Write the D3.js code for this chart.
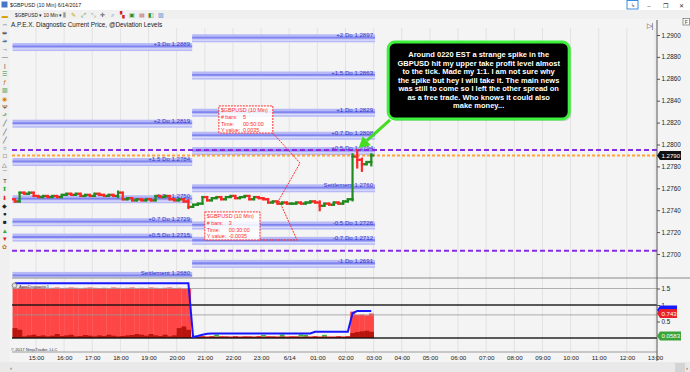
<!DOCTYPE html>
<html><head><meta charset="utf-8">
<script src="https://cdn.jsdelivr.net/npm/d3@7/dist/d3.min.js"></script>
<style>
body{margin:0;background:#f4f4f4}
svg{display:block;font-family:"Liberation Sans",Arial,sans-serif}
</style>
</head><body>
<svg id="c" width="690" height="372"></svg>
<script>
// ---------------- DATA ----------------
// time measured in minutes after 14:00 on 6/13
const barStartMin = 15;
const barStepMin = 10;
const firstOpen = 1.2750;
const closes = [
  1.2748,1.2756,1.2755,1.2756,1.2753,1.2752,1.2753,1.2752,1.2753,1.2752,
  1.2754,1.2755,1.2754,1.2755,1.2753,1.2754,1.2753,1.2755,1.2754,1.2753,
  1.2754,1.2753,1.2756,1.2750,1.2751,1.2749,1.2750,1.2749,1.2750,1.2749,
  1.2753,1.2752,1.2753,1.2750,1.2749,1.2750,1.2748,1.2743,1.2745,1.2746,
  1.2752,1.2749,1.2751,1.2752,1.2750,1.2752,1.2753,1.2751,1.2752,1.2753,
  1.2750,1.2752,1.2751,1.2750,1.2747,1.2748,1.2746,1.2747,1.2746,1.2746,
  1.2747,1.2746,1.2747,1.2748,1.2747,1.2744,1.2746,1.2745,1.2747,1.2746,
  1.2748,1.2750,1.2789,1.2786,1.2782,1.2784,1.2790
];
// [bar index, low, high] where wicks extend beyond open/close
const wicks = [[22,1.2752,1.2757],[37,1.2742,1.2749],[65,1.2740,1.2748],
  [72,1.2749,1.2791],[73,1.2779,1.2795],[74,1.2776,1.2787],[76,1.2781,1.2791]];

const priceTicks = [1.2700,1.2720,1.2740,1.2760,1.2780,1.2800,1.2820,1.2840,1.2860,1.2880,1.2900];
const timeTicks = [60,120,180,240,300,360,420,480,540,600,660,720,780,840,900,960,1020,1080,1140,1200,1260,1320,1380];
const timeTickLabels = ["15:00","16:00","17:00","18:00","19:00","20:00","21:00","22:00","23:00","6/14","01:00","02:00","03:00","04:00","05:00","06:00","07:00","08:00","09:00","10:00","11:00","12:00","13:00"];

const sessionLeft = [10, 393];
const sessionRight = [393, 783];
const leftLevelNames = ["+3 Do","+2 Do","+1.5 Do","+1 Do","+0.7 Do","+0.5 Do","Settlement"];
const leftLevelPrices = [1.2889,1.2819,1.2784,1.2750,1.2729,1.2715,1.2680];
const rightLevelNames = ["+2 Do","+1.5 Do","+1 Do","+0.7 Do","+0.5 Do","Settlement","-0.5 Do","-0.7 Do","-1 Do"];
const rightLevelPrices = [1.2897,1.2863,1.2829,1.2808,1.2794,1.2760,1.2726,1.2712,1.2691];

const targetPrices = [1.2795, 1.2703];
const currentPrice = 1.2790;

// lower indicator panel
const histMain = [
  1.50,1.52,1.53,1.52,1.51,1.53,1.52,1.50,1.52,1.53,1.51,1.52,1.53,1.52,1.50,1.52,1.53,1.52,1.51,1.52,
  1.50,1.53,1.52,1.51,1.52,1.53,1.50,1.52,1.51,1.53,1.52,1.50,1.52,1.53,1.51,1.52,1.50,1.51,
  0.04,0.05,0.06,0.05,0.06,0.05,0.06,0.05,0.05,0.06,0.05,0.06,0.05,0.05,0.06,0.05,0.06,0.05,0.05,0.06,
  0.05,0.06,0.05,0.05,0.06,0.05,0.06,0.05,0.06,0.05,0.05,0.06,0.05,0.06,
  0.80,0.70,0.71,0.69,0.743
];
const histDark = [
  0.30,0.25,0.05,0.08,0.10,0.06,0.08,0.05,0.07,0.12,0.06,0.08,0.10,0.05,0.06,0.09,0.07,0.05,0.08,0.06,
  0.10,0.07,0.05,0.06,0.08,0.09,0.12,0.10,0.07,0.12,0.08,0.06,0.10,0.05,0.08,0.30,0.35,0.25,
  0.03,0.03,0.04,0.03,0.04,0.03,0.03,0.04,0.03,0.04,0.03,0.03,0.04,0.03,0.04,0.03,0.03,0.04,0.03,0.04,
  0.03,0.03,0.04,0.03,0.04,0.03,0.04,0.03,0.04,0.03,0.03,0.04,0.03,0.04,
  0.15,0.18,0.20,0.22,0.19
];
const histGreen = [[43,0.06],[53,0.05],[57,0.06],[61,0.06],[62,0.05],[66,0.05]];
const blueLine = [
  1.66,1.66,1.66,1.66,1.66,1.66,1.66,1.66,1.66,1.66,1.66,1.66,1.66,1.66,1.66,1.66,1.66,1.66,1.66,1.66,
  1.66,1.66,1.66,1.66,1.66,1.66,1.66,1.66,1.66,1.66,1.66,1.66,1.66,1.66,1.66,1.66,1.66,1.66,
  0.03,0.06,0.10,0.13,0.14,0.14,0.14,0.14,0.14,0.14,0.14,0.14,0.14,0.14,0.14,0.14,0.14,0.14,0.14,0.14,
  0.14,0.14,0.14,0.14,0.14,0.14,0.19,0.19,0.19,0.19,0.19,0.19,0.19,0.19,
  0.75,0.82,0.82,0.82,0.82
];
const lowerTicks = [0.5, 1, 1.5];
const lowerLabelBlue = 0.85, lowerLabelRed = 0.743, lowerLabelGreen = 0.0583;

const calloutLines = [
  "Around 0220 EST a strange spike in the",
  "GBPUSD hit my upper take profit level almost",
  "to the tick.  Made my 1:1.  I am not sure why",
  "the spike but hey I will take it.  The main news",
  "was still to come so I left the other spread on",
  "as a free trade.  Who knows it could also",
  "make money..."
];
// annotation anchors in (minutes, price)
const calloutBox = [[811, 1.28936],[1197, 1.28233]];
const arrowFrom = [815, 1.28225], arrowTo = [748, 1.27968];
const ruler1Box = [[450, 1.28352],[565, 1.28105]];
const ruler2Box = [[420, 1.27384],[537.7, 1.27128]];
const ruler1Lines = ["$GBPUSD (10 Min)","# bars:","Time:","Y value:"];
const ruler1Vals = ["","5","00:50:00","0.0035"];
const ruler2Vals = ["","3","00:30:00","-0.0035"];
const rulerPath = [[565,1.28105],[623,1.27830],[578,1.27493],[616.6,1.27128],[537.7,1.27128]];

// ---------------- DRAW ----------------
const svg = d3.select("#c");
const x = d3.scaleLinear().domain([60,1380]).range([36,655]);
const y = d3.scaleLinear().domain([1.27,1.29]).range([254,35]);
const yL = d3.scaleLinear().domain([0,1.5]).range([338,288.5]);
const bx = i => x(barStartMin + barStepMin*i);
const bw = x(barStepMin) - x(0);
const PL = 12, PR = 657, PT = 20, PSEP = 278, PB = 352;

svg.append("rect").attr("width",690).attr("height",372).attr("fill","#f4f4f4");

// vertical grid
svg.append("g").selectAll("line").data(timeTicks).join("line")
  .attr("x1",d=>x(d)).attr("x2",d=>x(d)).attr("y1",PT+8).attr("y2",PB)
  .attr("stroke","#e2e2e2").attr("stroke-width",1);

svg.append("clipPath").attr("id","pc").append("rect")
  .attr("x",PL).attr("y",PT).attr("width",PR-PL).attr("height",PSEP-PT);
const main = svg.append("g").attr("clip-path","url(#pc)");

// deviation level bands
function drawLevels(names, prices, sess){
  const g = main.append("g");
  prices.forEach((p,k)=>{
    g.append("rect").attr("x",x(sess[0])).attr("width",x(sess[1])-x(sess[0]))
      .attr("y",y(p)-4).attr("height",8).attr("fill","#b6b9f6");
    g.append("rect").attr("x",x(sess[0])).attr("width",x(sess[1])-x(sess[0]))
      .attr("y",y(p)+1.2).attr("height",1.3).attr("fill","#e2e3fb").attr("opacity",0.8);
    g.append("line").attr("x1",x(sess[0])).attr("x2",x(sess[1]))
      .attr("y1",y(p)-0.6).attr("y2",y(p)-0.6).attr("stroke","#7f84ef").attr("stroke-width",1.8);
    g.append("text").attr("x",x(sess[1])-2).attr("y",y(p)-1)
      .attr("text-anchor","end").attr("font-size",6.1).attr("fill","#3535c8")
      .text(names[k]+" "+p.toFixed(4));
  });
}
drawLevels(leftLevelNames,leftLevelPrices,sessionLeft);
drawLevels(rightLevelNames,rightLevelPrices,sessionRight);

// target lines
main.selectAll("line.tp").data(targetPrices).join("line").attr("class","tp")
  .attr("x1",PL).attr("x2",PR).attr("y1",d=>y(d)).attr("y2",d=>y(d))
  .attr("stroke","#8a2be2").attr("stroke-width",2).attr("stroke-dasharray","5,3");
main.append("line").attr("x1",PL).attr("x2",PR).attr("y1",y(currentPrice)).attr("y2",y(currentPrice))
  .attr("stroke","#ffa23a").attr("stroke-width",2).attr("stroke-dasharray","3,2");

// ruler annotations
main.append("path").attr("d",d3.line().x(d=>x(d[0])).y(d=>y(d[1]))(rulerPath))
  .attr("fill","none").attr("stroke","#ff3030").attr("stroke-width",1).attr("stroke-dasharray","2,1");
function rulerBox(b, vals){
  const x0=x(b[0][0]), y0=y(b[0][1]), x1=x(b[1][0]), y1=y(b[1][1]);
  main.append("rect").attr("x",x0).attr("y",y0).attr("width",x1-x0).attr("height",y1-y0)
    .attr("fill","#ffffff").attr("fill-opacity",0.85).attr("stroke","#ff3030")
    .attr("stroke-width",1).attr("stroke-dasharray","2,1");
  ruler1Lines.forEach((t,k)=>{
    main.append("text").attr("x",x0+2).attr("y",y0+6+k*6.8).attr("font-size",5.4)
      .attr("fill","#ff2a2a").text(t);
    if(vals[k]) main.append("text").attr("x",x0+24).attr("y",y0+6+k*6.8).attr("font-size",5.4)
      .attr("fill","#ff2a2a").text(vals[k]);
  });
}
rulerBox(ruler1Box, ruler1Vals);
rulerBox(ruler2Box, ruler2Vals);

// price bars
const bars = closes.map((c,i)=>{
  const o = i ? closes[i-1] : firstOpen;
  let lo = Math.min(o,c), hi = Math.max(o,c);
  const w = wicks.find(d=>d[0]===i);
  if (w){ lo = Math.min(lo,w[1]); hi = Math.max(hi,w[2]); }
  return {i,o,c,lo,hi,up:c>=o};
});
const bg = main.append("g").attr("stroke-width",2.2).attr("stroke-linecap","square");
bars.forEach(b=>{
  const col = b.up ? "#1f8a1f" : "#ff2626";
  const cx = bx(b.i);
  bg.append("line").attr("x1",cx).attr("x2",cx).attr("y1",y(b.lo)).attr("y2",y(b.hi)).attr("stroke",col);
  bg.append("line").attr("x1",cx-bw/2+0.5).attr("x2",cx).attr("y1",y(b.o)).attr("y2",y(b.o)).attr("stroke",col);
  bg.append("line").attr("x1",cx).attr("x2",cx+bw/2-0.5).attr("y1",y(b.c)).attr("y2",y(b.c)).attr("stroke",col);
});

// callout
const cx0=x(calloutBox[0][0]), cy0=y(calloutBox[0][1]), cx1=x(calloutBox[1][0]), cy1=y(calloutBox[1][1]);
main.append("rect").attr("x",cx0+2).attr("y",cy0+2).attr("width",cx1-cx0).attr("height",cy1-cy0)
  .attr("rx",7).attr("fill","#888").attr("opacity",0.35);
main.append("rect").attr("x",cx0).attr("y",cy0).attr("width",cx1-cx0).attr("height",cy1-cy0)
  .attr("rx",7).attr("fill","#000").attr("stroke","#3df03d").attr("stroke-width",3);
calloutLines.forEach((t,k)=>{
  main.append("text").attr("x",(cx0+cx1)/2).attr("y",cy0+15.3+k*8.45)
    .attr("text-anchor","middle").attr("font-size",7.5).attr("font-weight","bold")
    .attr("fill","#fff").text(t);
});
// arrow
{
  const ax0=x(arrowFrom[0]), ay0=y(arrowFrom[1]), ax1=x(arrowTo[0]), ay1=y(arrowTo[1]);
  const ang = Math.atan2(ay1-ay0, ax1-ax0), L=11, Wd=6;
  const bxp = ax1 - L*Math.cos(ang), byp = ay1 - L*Math.sin(ang);
  main.append("line").attr("x1",ax0).attr("y1",ay0).attr("x2",bxp).attr("y2",byp)
    .attr("stroke","#44dd22").attr("stroke-width",3);
  const px = -Math.sin(ang)*Wd, py = Math.cos(ang)*Wd;
  main.append("polygon").attr("points",[[ax1,ay1],[bxp+px,byp+py],[bxp-px,byp-py]].map(p=>p.join(",")).join(" "))
    .attr("fill","#44dd22");
}

// lower panel
const lower = svg.append("g");
const hb = bw;
lower.selectAll("rect.m").data(histMain).join("rect").attr("class","m")
  .attr("x",(d,i)=>bx(i)-hb/2).attr("width",hb+0.3).attr("y",d=>yL(d)).attr("height",d=>yL(0)-yL(d))
  .attr("fill","#ff4646");
lower.selectAll("rect.d").data(histDark).join("rect").attr("class","d")
  .attr("x",(d,i)=>bx(i)-hb/2).attr("width",hb+0.3).attr("y",d=>yL(d)).attr("height",d=>yL(0)-yL(d))
  .attr("fill","#b8150f");
lower.selectAll("rect.g").data(histGreen).join("rect").attr("class","g")
  .attr("x",d=>bx(d[0])-hb/2).attr("width",hb).attr("y",d=>yL(d[1])-1.5).attr("height",d=>yL(0)-yL(d[1]))
  .attr("fill","#3cb43c");
// reference lines
[[1.5,"#a0a0a0",1],[0.7,"#9a9a9a",1],[1,"#111",1.6],[0,"#111",1.6]].forEach(r=>{
  lower.append("line").attr("x1",PL).attr("x2",PR).attr("y1",yL(r[0])).attr("y2",yL(r[0]))
    .attr("stroke",r[1]).attr("stroke-width",r[2]).attr("opacity",r[1]==="#111"?0.9:0.8);
});
lower.append("path").attr("d",d3.line().x((d,i)=>bx(i)).y(d=>yL(d))(blueLine))
  .attr("fill","none").attr("stroke","#1717ff").attr("stroke-width",2);
lower.append("circle").attr("cx",14.5).attr("cy",285.5).attr("r",2.5).attr("fill","#ddd").attr("stroke","#666").attr("stroke-width",0.7);
lower.append("text").attr("x",19).attr("y",287.5).attr("font-size",4).attr("fill","#333").text("ApexDiagnostic1");
lower.append("text").attr("x",11).attr("y",350.5).attr("font-size",4.2).attr("fill","#333").text("© 2017 NinjaTrader, LLC");

// separators / axes
svg.append("line").attr("x1",PL).attr("x2",690).attr("y1",PSEP).attr("y2",PSEP).attr("stroke","#8a8a8a");
svg.append("line").attr("x1",PL).attr("x2",PR).attr("y1",PB).attr("y2",PB).attr("stroke","#9a9a9a");
svg.append("line").attr("x1",PR).attr("x2",PR).attr("y1",PT).attr("y2",361).attr("stroke","#555");

const ra = svg.append("g").attr("transform",`translate(${PR},0)`)
  .call(d3.axisRight(y).tickValues(priceTicks).tickSize(3).tickFormat(d3.format(".4f")));
ra.select(".domain").remove();
ra.selectAll("text").attr("font-size",6.3).attr("fill","#222").attr("x",4.5).style("font-family","Liberation Sans, Arial, sans-serif");
ra.selectAll("line").attr("stroke","#555");

const rl = svg.append("g").attr("transform",`translate(${PR},0)`)
  .call(d3.axisRight(yL).tickValues(lowerTicks).tickSize(3).tickFormat(d=>String(d)));
rl.select(".domain").remove();
rl.selectAll("text").attr("font-size",6.3).attr("fill","#222").attr("x",4.5).style("font-family","Liberation Sans, Arial, sans-serif");
rl.selectAll("line").attr("stroke","#555");

const xa = svg.append("g").attr("transform",`translate(0,${PB})`)
  .call(d3.axisBottom(x).tickValues(timeTicks).tickSize(0).tickFormat((d,k)=>timeTickLabels[k]));
xa.select(".domain").remove();
xa.selectAll("text").attr("font-size",6.2).attr("fill","#222").attr("y",4).style("font-family","Liberation Sans, Arial, sans-serif");

// value flags on right axis
function flag(yy, txt, fill, w){
  const g = svg.append("g");
  g.append("path").attr("d",`M${PR},${yy} L${PR+3},${yy-4.5} H${PR+3+w} V${yy+4.5} H${PR+3} Z`).attr("fill",fill);
  if (txt) g.append("text").attr("x",PR+4.5).attr("y",yy+2.2).attr("font-size",6.1).attr("fill","#fff").text(txt);
}
flag(y(currentPrice), currentPrice.toFixed(4), "#111", 21);
flag(yL(lowerLabelBlue), "", "#1a1aff", 17);
flag(yL(lowerLabelRed), String(lowerLabelRed), "#e8202a", 17);
flag(yL(lowerLabelGreen), String(lowerLabelGreen), "#3aa33a", 21);

// window chrome: title bar
svg.append("rect").attr("width",690).attr("height",10).attr("fill","#ffffff");
svg.append("rect").attr("x",1.5).attr("y",1.5).attr("width",6).attr("height",6).attr("fill","#4a78c8");
svg.append("text").attr("x",10).attr("y",7).attr("font-size",5.3).attr("fill","#222").text("$GBPUSD (10 Min)  6/14/2017");
svg.append("rect").attr("x",627).attr("y",0.5).attr("width",11).attr("height",8.5).attr("fill","#fff").attr("stroke","#3a8de0");
svg.append("text").attr("x",632.5).attr("y",7).attr("font-size",5).attr("text-anchor","middle").attr("fill","#444").text("↳");
[["–",649],["❐",665],["✕",681]].forEach(b=>svg.append("text").attr("x",b[1]).attr("y",7.5).attr("font-size",6)
  .attr("text-anchor","middle").attr("fill","#333").text(b[0]));
// toolbar
svg.append("rect").attr("y",10).attr("width",690).attr("height",9).attr("fill","#f0f0f0");
svg.append("text").attr("x",15).attr("y",16.5).attr("font-size",4.8).attr("fill","#222").text("$GBPUSD ▾   10 Min ▾");
const tbIcons = [["⫼","#333"],["✎","#c9a400"],["⤢","#2c8f2c"],["⤡","#999"],["✛","#333"],["⌕","#4a78c8"],["▚","#d02020"],["▣","#2c8f2c"],["▤","#c06060"],["◧","#2c8f2c"],["▥","#4a78c8"]];
tbIcons.forEach((t,k)=>svg.append("text").attr("x",64+k*9.7).attr("y",17).attr("font-size",6)
  .attr("text-anchor","middle").attr("fill",t[1]).text(t[0]));
// left drawing toolbar
svg.append("rect").attr("y",19).attr("width",9.5).attr("height",343).attr("fill","#f0f0f0");
const lbIcons = [["▬","#d4a400"],["↔","#333"],["⇹","#333"],["⇸","#333"],["→","#333"],["—","#333"],["|","#333"],["☰","#2c8f2c"],["ƒ","#c06000"],["▥","#2c8f2c"],["◉","#d08000"],["Ψ","#333"],["⬏","#2c8f2c"],["╱","#333"],["╱","#333"],["╱","#333"],["○","#333"],["□","#333"],["△","#333"],["⌒","#333"],["T","#333"],["⬆","#2caa2c"],["⬇","#e02020"],["◆","#222"],["●","#222"],["■","#222"],["▲","#2caa2c"],["▼","#e02020"],["✿","#c87020"]];
lbIcons.forEach((t,k)=>svg.append("text").attr("x",4.8).attr("y",18+k*8.25).attr("font-size",6.2)
  .attr("text-anchor","middle").attr("fill",t[1]).text(t[0]));

// header text
svg.append("text").attr("x",11).attr("y",26.5).attr("font-size",6.4).attr("fill","#222")
  .text("A.P.E.X. Diagnostic Current Price, @Deviation Levels");

// top-right plot icons
svg.append("text").attr("x",650).attr("y",28).attr("font-size",7).attr("text-anchor","middle").attr("fill","#444").text("▷|");
svg.append("rect").attr("x",683).attr("y",18.5).attr("width",6.5).attr("height",6.5).attr("fill","#fff").attr("stroke","#555").attr("stroke-width",0.6);
svg.append("text").attr("x",686.2).attr("y",24).attr("font-size",5).attr("text-anchor","middle").attr("fill","#333").text("F");
// bottom strip
svg.append("rect").attr("y",362).attr("width",690).attr("height",10).attr("fill","#e9e9e9");
svg.append("text").attr("x",10).attr("y",369.5).attr("font-size",6).attr("fill","#444").text("‹");
svg.append("rect").attr("x",675).attr("y",363).attr("width",10).attr("height",9).attr("fill","#d4d4d4");
svg.append("text").attr("x",686).attr("y",369.5).attr("font-size",6).attr("fill","#444").text("›");
</script>
</body></html>
